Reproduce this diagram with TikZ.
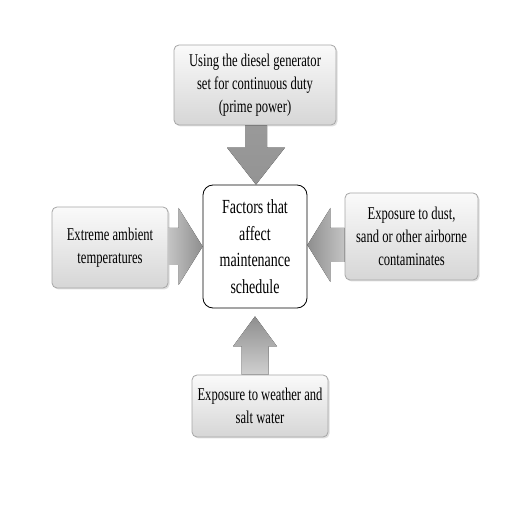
\documentclass[tikz,border=0pt]{standalone}
\usepackage{fontspec}
\setmainfont{Liberation Serif}[FakeStretch=0.70]
\usetikzlibrary{calc,shadows}
\definecolor{boxborder}{HTML}{A6A6A6}
\definecolor{boxtop}{HTML}{FAFAFA}
\definecolor{boxbot}{HTML}{D6D6D6}
\definecolor{arrlight}{HTML}{C4C4C4}
\definecolor{arrdark}{HTML}{8E8E8E}
\tikzset{
  factorbox/.style={draw=boxborder, line width=0.8pt, rounded corners=5pt,
    top color=boxtop, bottom color=boxbot, align=center, inner sep=2pt,
    font=\fontsize{18}{23}\selectfont,
    drop shadow={shadow xshift=1.5pt, shadow yshift=-1.5pt, opacity=0.25}},
  centerbox/.style={draw=black, line width=0.8pt, rounded corners=10pt, fill=white,
    align=center, inner sep=1pt, font=\fontsize{20}{26.5}\selectfont},
  arrowblock/.style={draw=none}
}
\begin{document}
\begin{tikzpicture}[x=1pt,y=1pt]
\useasboundingbox (0,0) rectangle (512,512);
% nodes
\node[centerbox, minimum width=104pt, minimum height=123pt] (C) at (255,265.5)
  {Factors that\\affect\\maintenance\\schedule};
\node[factorbox, minimum width=162pt, minimum height=80pt] (T) at (255,427)
  {Using the diesel generator\\set for continuous duty\\(prime power)};
\node[factorbox, minimum width=116pt, minimum height=81pt] (L) at (110,264.5)
  {Extreme ambient\\temperatures};
\node[factorbox, minimum width=133pt, minimum height=87pt] (R) at (411.5,275.5)
  {Exposure to dust,\\sand or other airborne\\contaminates};
\node[factorbox, minimum width=136pt, minimum height=62pt] (B) at (260,106)
  {Exposure to weather and\\salt water};
% top arrow
\coordinate (ttip) at ($(C.north)+(1,0)$);
\coordinate (ta) at ($(ttip)+(-11,0)$);
\coordinate (tb) at ($(ttip)+(11,0)$);
\fill[arrowblock, top color=arrdark!90, bottom color=arrdark!95]
  (ta |- T.south) -- ($(ttip)+(-11,37)$) -- ($(ttip)+(-29,37)$) -- (ttip)
  -- ($(ttip)+(29,37)$) -- ($(ttip)+(11,37)$) -- (tb |- T.south) -- cycle;
% left arrow
\coordinate (ltip) at ($(C.west)+(0,0)$);
\coordinate (la) at ($(ltip)+(0,18.5)$);
\coordinate (lb) at ($(ltip)+(0,-18.5)$);
\fill[arrowblock, left color=arrlight, right color=arrdark]
  (la -| L.east) -- ($(ltip)+(-24,18.5)$) -- ($(ltip)+(-24,38.5)$) -- (ltip)
  -- ($(ltip)+(-24,-38.5)$) -- ($(ltip)+(-24,-18.5)$) -- (lb -| L.east) -- cycle;
% right arrow
\coordinate (rtip) at ($(C.east)+(0,1.5)$);
\coordinate (ra) at ($(rtip)+(0,17)$);
\coordinate (rb) at ($(rtip)+(0,-17)$);
\fill[arrowblock, left color=arrdark, right color=arrlight]
  (ra -| R.west) -- ($(rtip)+(23,17)$) -- ($(rtip)+(23,37)$) -- (rtip)
  -- ($(rtip)+(23,-37)$) -- ($(rtip)+(23,-17)$) -- (rb -| R.west) -- cycle;
% bottom arrow
\coordinate (btip) at ($(C.south)+(0,-8)$);
\coordinate (ba) at ($(btip)+(-13.5,0)$);
\coordinate (bb) at ($(btip)+(13.5,0)$);
\fill[arrowblock, top color=arrdark, bottom color=arrlight!80!white]
  (ba |- B.north) -- ($(btip)+(-13.5,-30)$) -- ($(btip)+(-22,-30)$) -- (btip)
  -- ($(btip)+(22,-30)$) -- ($(btip)+(13.5,-30)$) -- (bb |- B.north) -- cycle;
\end{tikzpicture}
\end{document}
